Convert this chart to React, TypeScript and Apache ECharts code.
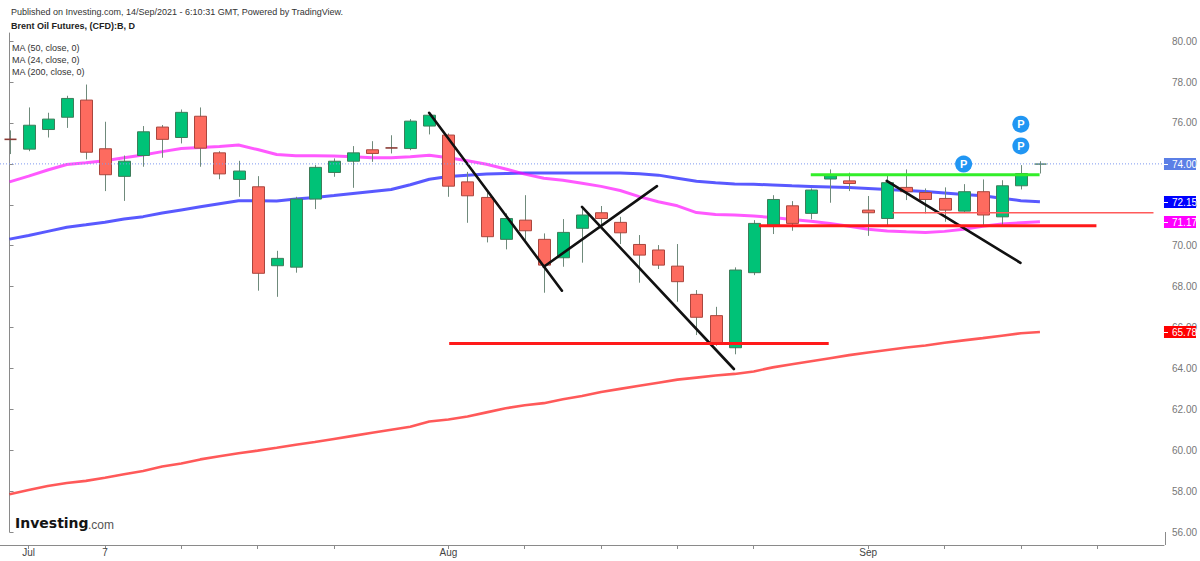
import React, { useEffect, useRef } from "react";
import * as echarts from "echarts";

// ---------- data ----------
const categories = [
  "2021-06-30",
  "2021-07-01", "2021-07-02", "2021-07-05", "2021-07-06", "2021-07-07", "2021-07-08", "2021-07-09",
  "2021-07-12", "2021-07-13", "2021-07-14", "2021-07-15", "2021-07-16", "2021-07-19", "2021-07-20",
  "2021-07-21", "2021-07-22", "2021-07-23", "2021-07-26", "2021-07-27", "2021-07-28", "2021-07-29",
  "2021-07-30",
  "2021-08-02", "2021-08-03", "2021-08-04", "2021-08-05", "2021-08-06", "2021-08-09", "2021-08-10",
  "2021-08-11", "2021-08-12", "2021-08-13", "2021-08-16", "2021-08-17", "2021-08-18", "2021-08-19",
  "2021-08-20", "2021-08-23", "2021-08-24", "2021-08-25", "2021-08-26", "2021-08-27", "2021-08-30",
  "2021-08-31",
  "2021-09-01", "2021-09-02", "2021-09-03", "2021-09-06", "2021-09-07", "2021-09-08", "2021-09-09",
  "2021-09-10", "2021-09-13", "2021-09-14",
  "2021-09-15", "2021-09-16", "2021-09-17", "2021-09-20", "2021-09-21", "2021-09-22",
];

const opens = [
  75.22, 74.72, 75.68, 76.28, 77.12, 74.74, 73.39, 74.41, 75.8, 75.29,
  76.33, 74.54, 73.24, 72.88, 69.02, 68.95, 72.28, 73.58, 74.13, 74.69,
  74.8, 74.75, 75.85, 75.41, 73.12, 72.36, 70.31, 71.25, 70.31, 69.41,
  70.85, 71.61, 71.14, 70.06, 69.79, 69.0, 67.62, 66.58, 65.01, 68.68,
  71.0, 71.95, 71.58, 73.26, 73.17, 71.74, 71.33, 72.85, 72.6, 72.31,
  71.69, 72.64, 71.41, 72.93, 73.98,
];
const highs = [
  75.64, 76.76, 76.5, 77.33, 77.88, 76.06, 74.41, 75.85, 75.9, 76.66,
  76.76, 74.62, 74.15, 73.4, 69.75, 72.39, 73.94, 74.27, 74.87, 75.11,
  75.4, 76.19, 76.47, 75.49, 73.61, 72.64, 71.58, 72.47, 70.6, 71.3,
  71.87, 71.94, 71.41, 70.52, 70.03, 70.08, 67.83, 67.01, 68.94, 71.25,
  72.47, 72.18, 72.8, 73.73, 73.57, 72.43, 73.5, 73.73, 72.8, 72.85,
  73.01, 73.24, 73.2, 73.94, 74.13,
];
const lows = [
  74.48, 74.62, 75.29, 75.76, 74.22, 72.67, 72.19, 73.86, 74.3, 75.0,
  73.86, 73.25, 72.39, 67.8, 67.5, 68.68, 71.79, 73.37, 72.83, 74.1,
  74.51, 74.67, 75.44, 72.39, 71.12, 70.16, 69.82, 70.27, 67.7, 68.97,
  69.17, 70.93, 70.08, 68.19, 68.86, 67.26, 65.63, 65.11, 64.69, 68.56,
  70.57, 70.73, 71.29, 72.1, 72.67, 70.48, 71.0, 72.23, 71.58, 71.17,
  71.63, 70.92, 71.0, 72.75, 73.53,
];
const closes = [
  75.18, 75.89, 76.19, 77.2, 74.57, 73.47, 74.13, 75.57, 75.2, 76.52,
  74.77, 73.51, 73.65, 68.65, 69.38, 72.28, 73.83, 74.13, 74.54, 74.51,
  74.76, 76.09, 76.38, 72.91, 72.44, 70.44, 71.33, 70.73, 69.05, 70.65,
  71.5, 71.33, 70.63, 69.54, 69.05, 68.24, 66.5, 65.19, 68.81, 71.09,
  72.26, 71.09, 72.72, 73.42, 73.04, 71.61, 73.08, 72.64, 72.26, 71.74,
  72.64, 71.5, 72.93, 73.53, 74.0,
];

const ma24 = [
  73.12, 73.4, 73.7, 73.97, 74.05, 74.15, 74.3, 74.43, 74.6, 74.75,
  74.8, 74.85, 74.92, 74.7, 74.46, 74.4, 74.4, 74.38, 74.35, 74.3,
  74.3, 74.35, 74.42, 74.3, 74.15, 73.98, 73.75, 73.5, 73.3, 73.2,
  73.05, 72.9, 72.7, 72.4, 72.15, 71.95, 71.62, 71.52, 71.5, 71.45,
  71.38, 71.28, 71.2, 71.08, 70.95, 70.8, 70.72, 70.68, 70.65, 70.7,
  70.8, 70.95, 71.06, 71.12, 71.17,
];
const ma50 = [
  70.32, 70.5, 70.7, 70.9, 71.02, 71.15, 71.3, 71.42, 71.6, 71.75,
  71.9, 72.05, 72.2, 72.2, 72.18, 72.28, 72.36, 72.45, 72.55, 72.65,
  72.75, 72.98, 73.25, 73.38, 73.45, 73.5, 73.53, 73.55, 73.56, 73.56,
  73.56, 73.56, 73.55, 73.52, 73.45, 73.3, 73.15, 73.08, 73.02, 73.0,
  72.97, 72.93, 72.9, 72.87, 72.84, 72.8, 72.75, 72.7, 72.65, 72.58,
  72.5, 72.44, 72.32, 72.2, 72.15,
];
const ma200 = [
  57.85, 58.05, 58.25, 58.4, 58.5, 58.65, 58.82, 58.98, 59.2, 59.35,
  59.55, 59.7, 59.85, 59.98, 60.12, 60.27, 60.4, 60.55, 60.7, 60.85,
  61.0, 61.15, 61.4, 61.5, 61.65, 61.85, 62.05, 62.2, 62.3, 62.49,
  62.65, 62.85, 63.0, 63.15, 63.3, 63.45, 63.55, 63.65, 63.73, 63.85,
  64.05, 64.2, 64.35, 64.5, 64.65, 64.78, 64.9, 65.02, 65.12, 65.25,
  65.37, 65.48, 65.6, 65.72, 65.78,
];

// x-axis ticks (category indexes) and their labels
const xTickIndexes = [1, 5, 9, 13, 17, 23, 27, 31, 35, 39, 45, 49, 53, 57];
const xTickLabels: Record<number, string> = { 1: "Jul", 5: "7", 23: "Aug", 45: "Sep" };

// drawn annotations, in bar-index / price units: [x1, y1, x2, y2]
const trendLines = [
  [21.99, 76.5, 28.95, 67.8],
  [28.0, 68.97, 33.93, 72.91],
  [30.0, 71.9, 37.96, 63.97],
  [45.97, 73.17, 52.98, 69.16],
];
// horizontal levels: [xStart, xEnd, price]
const redLevels = [
  [23.04, 42.93, 65.22],
  [39.27, 56.96, 70.97],
];
const thinRedLevel = [46.28, 59.95, 71.61];
const greenLevel = [41.99, 53.98, 73.47];
// "P" markers: [bar index, price]
const pMarkers = [
  [50, 73.99],
  [53, 74.88],
  [53, 75.94],
];

const headerLines = [
  "Published on Investing.com, 14/Sep/2021 - 6:10:31 GMT, Powered by TradingView.",
  "Brent Oil Futures, (CFD):B, D",
];
const legendLines = ["MA (50, close, 0)", "MA (24, close, 0)", "MA (200, close, 0)"];

// ---------- styles ----------
const FONT = '"Liberation Sans", Arial, Helvetica, sans-serif';
const UP_FILL = "#00c277";
const DOWN_FILL = "#fd6b5f";
const UP_BORDER = "#3e7d5a";
const DOWN_BORDER = "#a9463e";
const WICK = "#6f8a7b";
const AXIS = "#8a8a8a";

export default function App() {
  const ref = useRef<HTMLDivElement>(null);

  useEffect(() => {
    document.body.style.margin = "0";
    const chart = echarts.init(ref.current!, null, { renderer: "svg" });

    const last = closes.length - 1;
    const candleData = closes.map((c, i) => [i, opens[i], c, lows[i], highs[i]]);
    const markValues = [closes[last], ma50[last], ma24[last], ma200[last]];
    const markColors = ["#5b7fe6", "#0000ff", "#ff00ff", "#ff0000"];

    const lineSeries = (data: number[][], color: string, width: number, extra: any = {}) => ({
      type: "line",
      xAxisIndex: 1,
      yAxisIndex: 0,
      data,
      showSymbol: false,
      silent: true,
      z: 5,
      lineStyle: { color, width, ...extra },
    });

    const annotationSeries: any[] = [];
    trendLines.forEach((l) =>
      annotationSeries.push(
        lineSeries(
          [
            [l[0], l[1]],
            [l[2], l[3]],
          ],
          "#111111",
          2.6,
          { cap: "round" }
        )
      )
    );
    redLevels.forEach((l) =>
      annotationSeries.push(
        lineSeries(
          [
            [l[0], l[2]],
            [l[1], l[2]],
          ],
          "#ff1a1a",
          3
        )
      )
    );
    annotationSeries.push(
      lineSeries(
        [
          [thinRedLevel[0], thinRedLevel[2]],
          [thinRedLevel[1], thinRedLevel[2]],
        ],
        "#ff5a5a",
        1.6
      )
    );
    annotationSeries.push(
      lineSeries(
        [
          [greenLevel[0], greenLevel[2]],
          [greenLevel[1], greenLevel[2]],
        ],
        "#33ee2a",
        3
      )
    );
    // dotted last-price line across the whole pane
    annotationSeries.push(
      lineSeries(
        [
          [-0.5, closes[last]],
          [60.5, closes[last]],
        ],
        "#7d98f0",
        1,
        { type: [1, 2] }
      )
    );

    const option: any = {
      animation: false,
      backgroundColor: "#ffffff",
      textStyle: { fontFamily: FONT },
      grid: { left: 0, right: 35, top: 33, bottom: 29, containLabel: false },
      xAxis: [
        {
          type: "category",
          data: categories,
          boundaryGap: true,
          offset: 13,
          axisLine: { show: true, lineStyle: { color: AXIS, width: 1 } },
          axisTick: {
            show: true,
            alignWithLabel: true,
            length: 4,
            interval: (i: number) => xTickIndexes.indexOf(i) >= 0,
            lineStyle: { color: AXIS },
          },
          axisLabel: {
            interval: (i: number) => xTickLabels[i] !== undefined,
            formatter: (_v: string, i: number) => xTickLabels[i] ?? "",
            color: "#444",
            fontSize: 10,
            margin: 2,
            fontFamily: FONT,
          },
          splitLine: { show: false },
        },
        {
          type: "value",
          min: -0.5,
          max: 60.5,
          show: false,
        },
      ],
      yAxis: {
        type: "value",
        position: "right",
        min: 56,
        max: 80.4,
        interval: 2,
        splitLine: { show: false },
        axisLine: { show: true, lineStyle: { color: AXIS } },
        axisTick: { show: true, length: 4, lineStyle: { color: AXIS } },
        axisLabel: {
          color: "#777",
          fontSize: 10,
          margin: 8,
          fontFamily: FONT,
          showMaxLabel: false,
          formatter: (v: number) => {
            const r = Math.round(v);
            return Math.abs(v - r) < 1e-6 && r % 2 === 0 ? v.toFixed(2) : "";
          },
        },
      },
      series: [
        {
          name: "MA200",
          type: "line",
          data: ma200,
          showSymbol: false,
          silent: true,
          z: 3,
          lineStyle: { color: "#ff0000", opacity: 0.65, width: 2.6 },
        },
        {
          name: "MA50",
          type: "line",
          data: ma50,
          showSymbol: false,
          silent: true,
          z: 3,
          lineStyle: { color: "#0000ff", opacity: 0.65, width: 3 },
        },
        {
          name: "MA24",
          type: "line",
          data: ma24,
          showSymbol: false,
          silent: true,
          z: 3,
          lineStyle: { color: "#ff00ff", opacity: 0.65, width: 3 },
        },
        {
          name: "Brent",
          type: "custom",
          xAxisIndex: 0,
          yAxisIndex: 0,
          z: 4,
          data: candleData,
          encode: { x: 0, y: [1, 2, 3, 4] },
          renderItem: (_params: any, api: any) => {
            const i = api.value(0);
            const o = api.value(1);
            const c = api.value(2);
            const l = api.value(3);
            const h = api.value(4);
            const x = api.coord([i, o])[0];
            const yo = api.coord([i, o])[1];
            const yc = api.coord([i, c])[1];
            const yl = api.coord([i, l])[1];
            const yh = api.coord([i, h])[1];
            const w = Math.round(api.size([1, 0])[0] * 0.63);
            const up = c >= o;
            const xr = Math.round(x) + 0.5;
            const top = Math.min(yo, yc);
            const hgt = Math.abs(yo - yc);
            const children: any[] = [
              {
                type: "line",
                shape: { x1: xr, y1: yh, x2: xr, y2: yl },
                style: { stroke: WICK, lineWidth: 1 },
              },
            ];
            if (hgt < 1.6) {
              children.push({
                type: "line",
                shape: { x1: xr - w / 2, y1: (yo + yc) / 2, x2: xr + w / 2, y2: (yo + yc) / 2 },
                style: { stroke: up ? "#5f8a74" : "#8a3a34", lineWidth: 1.6 },
              });
            } else {
              children.push({
                type: "rect",
                shape: { x: xr - w / 2, y: top, width: w, height: hgt },
                style: {
                  fill: up ? UP_FILL : DOWN_FILL,
                  stroke: up ? UP_BORDER : DOWN_BORDER,
                  lineWidth: 1,
                },
              });
            }
            return { type: "group", children };
          },
        },
        ...annotationSeries,
        {
          name: "P",
          type: "scatter",
          xAxisIndex: 1,
          yAxisIndex: 0,
          data: pMarkers,
          symbol: "circle",
          symbolSize: 17,
          z: 8,
          silent: true,
          itemStyle: { color: "#2196f3", opacity: 1 },
          label: {
            show: true,
            position: "inside",
            formatter: "P",
            color: "#ffffff",
            fontWeight: "bold",
            fontSize: 11,
            fontFamily: FONT,
          },
        },
        {
          name: "axisMarks",
          type: "custom",
          xAxisIndex: 0,
          yAxisIndex: 0,
          clip: false,
          z: 20,
          data: markValues.map((v) => [0, v]),
          encode: { x: 0, y: 1 },
          renderItem: (params: any, api: any) => {
            const v = api.value(1);
            const y = Math.round(api.coord([0, v])[1]);
            const x0 = api.coord([categories.length - 1, v])[0] + api.size([1, 0])[0] / 2;
            const color = markColors[params.dataIndex];
            return {
              type: "group",
              children: [
                {
                  type: "rect",
                  shape: { x: x0, y: y - 6, width: 32, height: 12 },
                  style: { fill: color },
                },
                {
                  type: "line",
                  shape: { x1: x0, y1: y + 0.5, x2: x0 + 4, y2: y + 0.5 },
                  style: { stroke: "#ffffff", lineWidth: 1 },
                },
                {
                  type: "text",
                  x: x0 + 8,
                  y: y + 0.5,
                  style: {
                    text: v.toFixed(2),
                    fill: "#ffffff",
                    fontSize: 10,
                    fontFamily: FONT,
                    align: "left",
                    verticalAlign: "middle",
                  },
                },
              ],
            };
          },
        },
      ],
      graphic: [
        {
          type: "text",
          x: 11,
          y: 12,
          style: {
            text: headerLines[0],
            fill: "#333333",
            font: `9px ${FONT}`,
            textVerticalAlign: "middle",
            verticalAlign: "middle",
          },
        },
        {
          type: "text",
          x: 11,
          y: 26,
          style: {
            text: headerLines[1],
            fill: "#222222",
            font: `bold 9px ${FONT}`,
            textVerticalAlign: "middle",
            verticalAlign: "middle",
          },
        },
        ...legendLines.map((t, k) => ({
          type: "text",
          x: 12,
          y: 48 + k * 11.8,
          style: {
            text: t,
            fill: "#333333",
            font: `9px ${FONT}`,
            textVerticalAlign: "middle",
            verticalAlign: "middle",
          },
        })),
        {
          type: "text",
          x: 15,
          y: 523,
          style: {
            text: "Investing",
            fill: "#141414",
            font: `bold 14px "DejaVu Sans", ${FONT}`,
            textVerticalAlign: "middle",
            verticalAlign: "middle",
          },
        },
        {
          type: "text",
          x: 88,
          y: 524.5,
          style: {
            text: ".com",
            fill: "#555555",
            font: `12px ${FONT}`,
            textVerticalAlign: "middle",
            verticalAlign: "middle",
          },
        },
        {
          type: "line",
          shape: { x1: 1165.5, y1: 532, x2: 1165.5, y2: 545 },
          style: { stroke: AXIS, lineWidth: 1 },
        },
      ],
    };

    chart.setOption(option);
    return () => chart.dispose();
  }, []);

  return <div ref={ref} style={{ width: 1200, height: 561 }} />;
}
